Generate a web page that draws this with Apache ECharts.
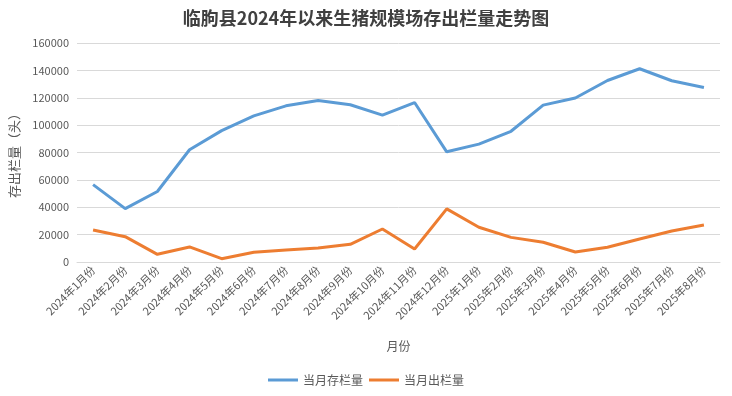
<!DOCTYPE html>
<html>
<head>
<meta charset="utf-8">
<script src="https://cdn.jsdelivr.net/npm/echarts@6/dist/echarts.min.js"></script>
<style>
html,body{margin:0;padding:0;background:#fff;}
#main{width:732px;height:396px;}
</style>
</head>
<body>
<div id="main"></div>
<script>
// 月份
const months = [
    '2024年1月份','2024年2月份','2024年3月份','2024年4月份','2024年5月份',
    '2024年6月份','2024年7月份','2024年8月份','2024年9月份','2024年10月份',
    '2024年11月份','2024年12月份','2025年1月份','2025年2月份','2025年3月份',
    '2025年4月份','2025年5月份','2025年6月份','2025年7月份','2025年8月份'
]
// 当月存栏量
const stockData = [56500, 39000, 51500, 82000, 96000, 106800, 114100, 118000, 114900, 107300,
    116500, 80500, 86100, 95500, 114600, 119800, 132600, 141200, 132400, 127500]
// 当月出栏量
const outData = [23400, 18500, 5600, 11000, 2400, 7100, 8800, 10200, 12900, 24100,
    9500, 38800, 25400, 18000, 14400, 7300, 10800, 16800, 22700, 27000]

const chart = echarts.init(document.getElementById('main'))
const fontCN = '"Microsoft YaHei","Noto Sans CJK SC",sans-serif'
const option = {
    animation:false,
    title:{
        text:'临朐县2024年以来生猪规模场存出栏量走势图',
        left:'center',
        top:4,
        textStyle:{
            fontSize:18,
            fontWeight:'bold',
            color:'#404040',
            fontFamily:fontCN
        }
    },
    legend:{
        bottom:5,
        itemWidth:30,
        itemHeight:3,
        itemGap:6,
        icon:'rect',
        textStyle:{color:'#595959',fontSize:12,fontFamily:fontCN},
        data:['当月存栏量','当月出栏量']
    },
    grid:{
        left:74,
        right:12,
        top:43,
        bottom:134
    },
    xAxis:{
        type:'category',
        data:months,
        boundaryGap:true,
        name:'月份',
        nameLocation:'middle',
        nameGap:78,
        nameTextStyle:{color:'#595959',fontSize:12,fontFamily:fontCN},
        axisLine:{lineStyle:{color:'#d9d9d9'}},
        axisTick:{show:false},
        axisLabel:{
            rotate:45,
            interval:0,
            color:'#595959',
            fontSize:11,
            margin:6,
            fontFamily:fontCN
        }
    },
    yAxis:{
        type:'value',
        min:0,
        max:160000,
        interval:20000,
        name:'存出栏量（头）',
        nameLocation:'middle',
        nameGap:56,
        nameTextStyle:{color:'#595959',fontSize:13,fontFamily:fontCN},
        axisLine:{show:false},
        axisTick:{show:false},
        splitLine:{lineStyle:{color:'#d9d9d9'}},
        axisLabel:{
            color:'#595959',
            fontSize:11,
            margin:8,
            fontFamily:fontCN,
            formatter:(v)=>String(v)
        }
    },
    series:[
        {
            name:'当月存栏量',
            type:'line',
            data:stockData,
            symbol:'none',
            lineStyle:{width:3,color:'#5B9BD5'},
            itemStyle:{color:'#5B9BD5'}
        },
        {
            name:'当月出栏量',
            type:'line',
            data:outData,
            symbol:'none',
            lineStyle:{width:3,color:'#ED7D31'},
            itemStyle:{color:'#ED7D31'}
        }
    ]
}
chart.setOption(option)
</script>
</body>
</html>
